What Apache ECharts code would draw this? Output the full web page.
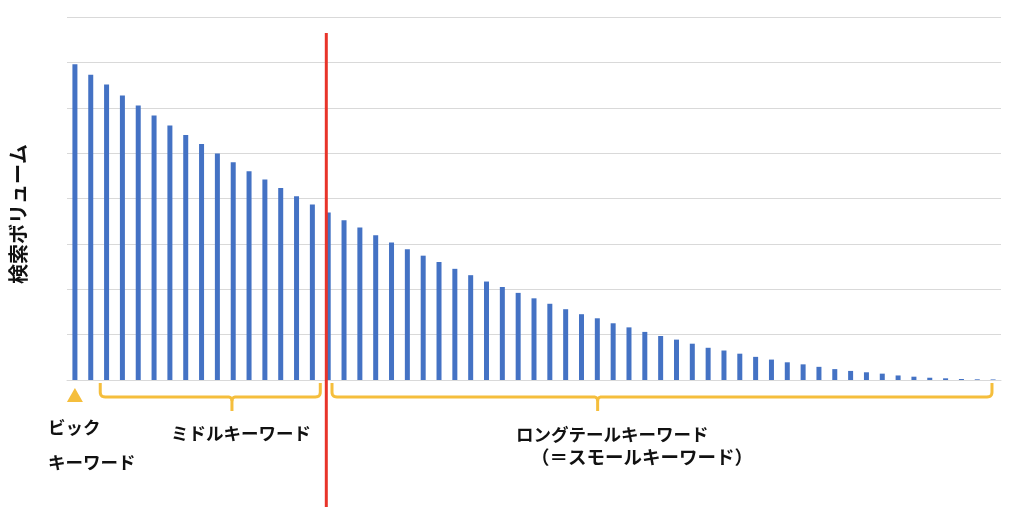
<!DOCTYPE html>
<html><head><meta charset="utf-8">
<script src="https://cdn.jsdelivr.net/npm/echarts@6/dist/echarts.min.js"></script>
<style>html,body{margin:0;padding:0;background:#fff}#c{width:1024px;height:524px}</style>
</head><body><div id="c"></div>
<script>
// search volume of each keyword (grid units, 0..8)
const volumes = [
  6.96, 6.73, 6.51, 6.27, 6.05, 5.83, 5.61, 5.40, 5.20, 4.99,
  4.80, 4.60, 4.42, 4.23, 4.05, 3.87, 3.69, 3.52, 3.36, 3.19,
  3.03, 2.88, 2.74, 2.60, 2.45, 2.31, 2.17, 2.05, 1.92, 1.80,
  1.68, 1.56, 1.45, 1.36, 1.25, 1.16, 1.06, 0.97, 0.89, 0.80,
  0.71, 0.65, 0.58, 0.51, 0.45, 0.39, 0.345, 0.29, 0.24, 0.20,
  0.17, 0.14, 0.10, 0.073, 0.05, 0.037, 0.022, 0.015, 0.012
];
const categories = volumes.map((_, i) => 'KW' + (i + 1));
const yAxisTitle = '検索ボリューム';
const bigLabel = ['ビック', 'キーワード'];
const middleLabel = 'ミドルキーワード';
const longLabel = ['ロングテールキーワード', '（＝スモールキーワード）'];
// annotation anchors in category-index units
const bigIndex = 0;
const middleRange = [1.6, 15.5, 9.92];
const splitIndex = 15.88;
const longRange = [16.24, 57.93, 33.02];

const FONT = '"Noto Sans CJK JP", "Noto Sans", sans-serif';
const YEL = '#F5BE3C';
const chart = echarts.init(document.getElementById('c'), null, {renderer: 'canvas'});
chart.setOption({
  animation: false,
  grid: {left: 67, right: 23, top: 17, bottom: 144},
  xAxis: {
    type: 'category', data: categories,
    axisLine: {show: true, lineStyle: {color: '#d9d9d9', width: 1}},
    axisTick: {show: false}, axisLabel: {show: false}
  },
  yAxis: {
    type: 'value', min: 0, max: 8, interval: 1,
    axisLine: {show: false}, axisTick: {show: false}, axisLabel: {show: false},
    splitLine: {lineStyle: {color: '#d9d9d9', width: 1}}
  },
  series: [{
    type: 'bar', data: volumes, barWidth: 5,
    itemStyle: {color: '#4472C4'}
  }]
});

function catX(f) {
  const p0 = chart.convertToPixel({xAxisIndex: 0}, categories[0]);
  const p1 = chart.convertToPixel({xAxisIndex: 0}, categories[1]);
  return p0 + f * (p1 - p0);
}
const baseY = chart.convertToPixel({yAxisIndex: 0}, 0);
function quad(pts, a, c, b) {
  for (let k = 1; k <= 6; k++) {
    const t = k / 6;
    pts.push([
      (1 - t) * (1 - t) * a[0] + 2 * (1 - t) * t * c[0] + t * t * b[0],
      (1 - t) * (1 - t) * a[1] + 2 * (1 - t) * t * c[1] + t * t * b[1]
    ]);
  }
}
function brace(a, b, t) {
  const x1 = catX(a), x2 = catX(b), xt = catX(t);
  const top = baseY + 3, h = baseY + 17, tip = baseY + 31;
  const p = [[x1, top], [x1, h - 5]];
  quad(p, [x1, h - 5], [x1, h], [x1 + 5, h]);
  p.push([xt - 4, h]);
  quad(p, [xt - 4, h], [xt, h], [xt, h + 4]);
  p.push([xt, tip]);
  const q = [[xt, h + 4]];
  quad(q, [xt, h + 4], [xt, h], [xt + 4, h]);
  q.push([x2 - 5, h]);
  quad(q, [x2 - 5, h], [x2, h], [x2, h - 5]);
  q.push([x2, top]);
  const st = {fill: null, stroke: YEL, lineWidth: 3, lineJoin: 'round'};
  return [
    {type: 'polyline', shape: {points: p}, style: st},
    {type: 'polyline', shape: {points: q}, style: st}
  ];
}
const tx = catX(bigIndex);
const txt = (t, x, y, align, size) => ({
  type: 'text', x: x, y: y,
  style: {text: t, fill: '#111', font: `bold ${size}px ${FONT}`, textAlign: align, textVerticalAlign: 'middle'}
});
chart.setOption({
  graphic: [
    {type: 'polygon', shape: {points: [[tx - 8, baseY + 22], [tx + 8, baseY + 22], [tx, baseY + 8]]}, style: {fill: YEL}},
    ...brace(middleRange[0], middleRange[1], middleRange[2]),
    ...brace(longRange[0], longRange[1], longRange[2]),
    {type: 'line', shape: {x1: catX(splitIndex), y1: 33, x2: catX(splitIndex), y2: 507},
      style: {stroke: '#E8342A', lineWidth: 3}, z: 10},
    txt(bigLabel[0], 48, 427, 'left', 17.5),
    txt(bigLabel[1], 48, 462, 'left', 17.5),
    txt(middleLabel, 171, 433, 'left', 17.5),
    txt(longLabel[0], 516, 434, 'left', 17.5),
    txt(longLabel[1], 642, 457, 'center', 18.5),
    {type: 'text', x: 18, y: 214, rotation: Math.PI / 2,
      style: {text: yAxisTitle, fill: '#111', font: `bold 20px ${FONT}`, textAlign: 'center', textVerticalAlign: 'middle'}}
  ]
});
</script></body></html>
